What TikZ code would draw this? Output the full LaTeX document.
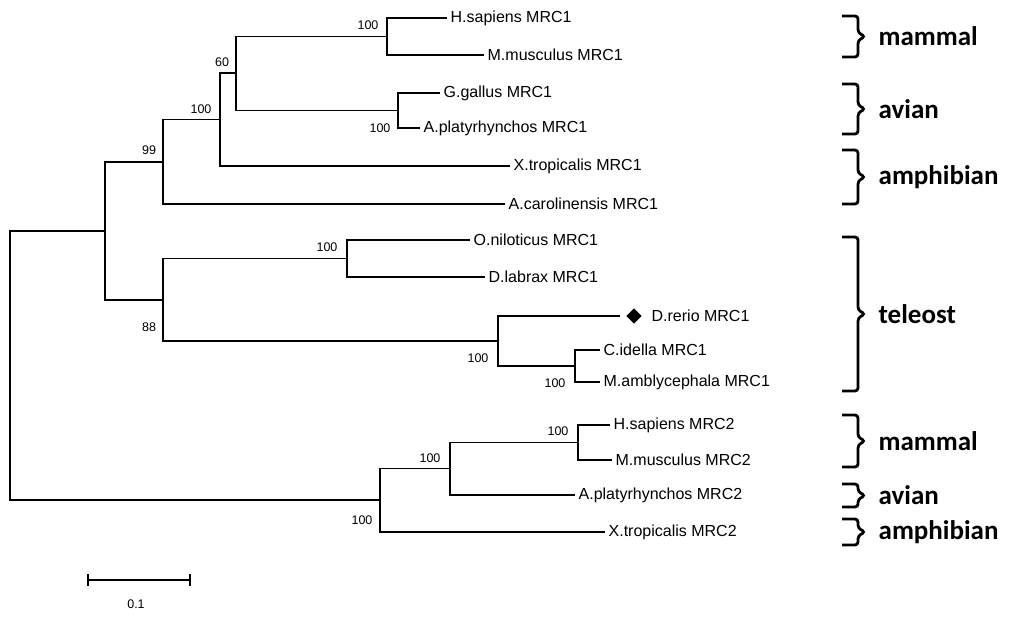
\documentclass[tikz,border=0pt]{standalone}
\usepackage{fontspec}
\setmainfont{Liberation Sans}
\newfontfamily\grpfont{Carlito}
\usetikzlibrary{shapes.geometric}
\begin{document}
\begin{tikzpicture}[x=1pt, y=-1pt, line width=1.3pt,
    leaf/.style={anchor=west, inner sep=3pt, font=\fontsize{16}{18}\selectfont},
    boot/.style={inner sep=1pt, font=\fontsize{12.5}{14}\selectfont},
    grp/.style={anchor=west, inner sep=0pt, font=\grpfont\bfseries\fontsize{27}{30}\selectfont},
    brk/.style={line width=2.8pt, rounded corners=3pt}]
  \useasboundingbox (0,0) rectangle (1024,617);

  % internal nodes
  \coordinate (a1) at (387,36.5);
  \coordinate (a2) at (398,110.5);
  \coordinate (a3) at (236,73);
  \coordinate (a4) at (220,119.5);
  \coordinate (a5) at (163,162);
  \coordinate (t1) at (347,258.5);
  \coordinate (t2) at (575,366);
  \coordinate (t3) at (498,341);
  \coordinate (t4) at (163,300);
  \coordinate (r1) at (105,231);
  \coordinate (m1) at (578,442.5);
  \coordinate (m2) at (450,468.75);
  \coordinate (m3) at (380,500);
  \coordinate (root) at (10,365.5);

  % leaves
  \node[leaf] (hs1) at (447,18) {H.sapiens MRC1};
  \node[leaf] (mm1) at (484,55) {M.musculus MRC1};
  \node[leaf] (gg1) at (440,93) {G.gallus MRC1};
  \node[leaf] (ap1) at (420,128) {A.platyrhynchos MRC1};
  \node[leaf] (xt1) at (510,166) {X.tropicalis MRC1};
  \node[leaf] (ac1) at (505,204) {A.carolinensis MRC1};
  \node[leaf] (on1) at (470,240) {O.niloticus MRC1};
  \node[leaf] (dl1) at (485,277) {D.labrax MRC1};
  \node[diamond, fill=black, inner sep=0pt, minimum size=16pt] (dia) at (634,316) {};
  \node[leaf] (dr1) at (648,316) {D.rerio MRC1};
  \node[leaf] (ci1) at (600,350) {C.idella MRC1};
  \node[leaf] (ma1) at (600,382) {M.amblycephala MRC1};
  \node[leaf] (hs2) at (610,425) {H.sapiens MRC2};
  \node[leaf] (mm2) at (612,460) {M.musculus MRC2};
  \node[leaf] (ap2) at (575,495) {A.platyrhynchos MRC2};
  \node[leaf] (xt2) at (605,532) {X.tropicalis MRC2};

  % branches
  \draw (a1) |- (hs1.west) (a1) |- (mm1.west);
  \draw (a2) |- (gg1.west) (a2) |- (ap1.west);
  \draw (a3) |- (a1) (a3) |- (a2);
  \draw (a4) |- (a3) (a4) |- (xt1.west);
  \draw (a5) |- (a4) (a5) |- (ac1.west);
  \draw (t1) |- (on1.west) (t1) |- (dl1.west);
  \draw (t2) |- (ci1.west) (t2) |- (ma1.west);
  \draw (t3) |- (t2);
  \draw[shorten >=5pt] (t3) |- (dia.west);
  \draw (t4) |- (t1) (t4) |- (t3);
  \draw (r1) |- (a5) (r1) |- (t4);
  \draw (m1) |- (hs2.west) (m1) |- (mm2.west);
  \draw (m2) |- (m1) (m2) |- (ap2.west);
  \draw (m3) |- (m2) (m3) |- (xt2.west);
  \draw (root) |- (r1) (root) |- (m3);

  % bootstrap values
  \node[boot] (b1) at (368,25) {100};
  \node[boot] (b2) at (380,128) {100};
  \node[boot] (b3) at (222,62) {60};
  \node[boot] (b4) at (201,109) {100};
  \node[boot] (b5) at (149,150) {99};
  \node[boot] (b6) at (327,247) {100};
  \node[boot] (b7) at (478,358) {100};
  \node[boot] (b8) at (555,383) {100};
  \node[boot] (b9) at (149,327) {88};
  \node[boot] (b10) at (558,431) {100};
  \node[boot] (b11) at (430,458) {100};
  \node[boot] (b12) at (362,520) {100};

  % brackets and groups
  \foreach \t/\b/\g [count=\i] in {16/57/mammal, 84/134/avian, 150/204/amphibian,
      237/391/teleost, 415/467/mammal, 484/507/avian, 519/545/amphibian}{
    \pgfmathsetmacro{\m}{(\t+\b)/2}
    \draw[brk] (842,\t) -- (858,\t) -- (858,\m-4) -- (865,\m) -- (858,\m+4) -- (858,\b) -- (842,\b);
    \node[grp] (g\i) at (878,\m) {\g};
  }

  % scale bar
  \coordinate (s1) at (88,580);
  \coordinate (s2) at (190,580);
  \draw (s1) -- (s2) (s1) ++(0,-6) -- ++(0,12) (s2) ++(0,-6) -- ++(0,12);
  \node[boot] (sc) at (136,604) {0.1};
\end{tikzpicture}
\end{document}
